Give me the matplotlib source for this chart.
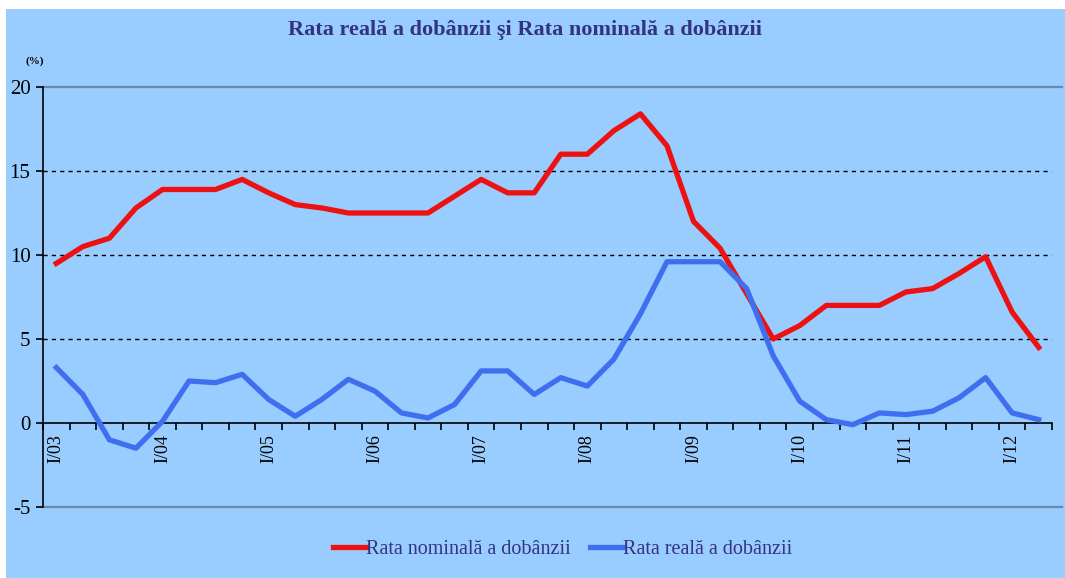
import matplotlib.pyplot as plt
from matplotlib.patches import Rectangle

plt.rcParams["axes.unicode_minus"] = False

# date trimestriale I/03 - II/12
rata_nominala = [9.5, 10.5, 11.0, 12.8, 13.9, 13.9, 13.9, 14.5, 13.7, 13.0,
                 12.8, 12.5, 12.5, 12.5, 12.5, 13.5, 14.5, 13.7, 13.7, 16.0,
                 16.0, 17.4, 18.4, 16.5, 12.0, 10.4, 7.7, 5.0, 5.8, 7.0,
                 7.0, 7.0, 7.8, 8.0, 8.9, 9.9, 6.6, 4.5]
rata_reala = [3.3, 1.7, -1.0, -1.5, 0.1, 2.5, 2.4, 2.9, 1.4, 0.4,
              1.4, 2.6, 1.9, 0.6, 0.3, 1.1, 3.1, 3.1, 1.7, 2.7,
              2.2, 3.8, 6.5, 9.6, 9.6, 9.6, 8.0, 4.0, 1.3, 0.2,
              -0.1, 0.6, 0.5, 0.7, 1.5, 2.7, 0.6, 0.2]
ani = ["03", "04", "05", "06", "07", "08", "09", "10", "11", "12"]
etichete = ["I/" + a for a in ani]

bg = "#99CCFF"
navy = "#333380"
serif = ["Liberation Serif", "DejaVu Serif"]

fig = plt.figure(figsize=(10.65, 5.78), dpi=100)
fig.patch.set_facecolor("white")
fig.patches.append(Rectangle((6 / 1065, 0), 1, 1 - 9 / 578, transform=fig.transFigure,
                             facecolor=bg, edgecolor="none", zorder=-10))

ax = fig.add_axes([43 / 1065, 1 - 507 / 578, (1052 - 43) / 1065, (507 - 87) / 578])
ax.set_facecolor(bg)

x = list(range(len(rata_nominala)))
ax.plot(x, rata_nominala, color="#EE1111", lw=3.8, solid_joinstyle="round",
        label="Rata nominală a dobânzii", zorder=3)
ax.plot(x, rata_reala, color="#3F6FEF", lw=3.8, solid_joinstyle="round",
        label="Rata reală a dobânzii", zorder=4)

ax.set_xlim(-0.5, len(x) - 0.5)
ax.set_ylim(-5, 20)

for s in ["top", "right"]:
    ax.spines[s].set_visible(False)
ax.spines["bottom"].set_position(("data", 0))
ax.spines["bottom"].set_linewidth(1.2)
ax.spines["left"].set_linewidth(1.2)

for v in [5, 10, 15]:
    ax.axhline(v, color="black", lw=1.0, ls=(0, (3, 3)), zorder=1)
ax.axhline(20, color="#6A8AAA", lw=1.6, xmax=1.01, clip_on=False, zorder=1)
ax.axhline(-5, color="#6A8AAA", lw=1.6, xmax=1.01, clip_on=False, zorder=1)

ax.set_yticks([-5, 0, 5, 10, 15, 20])
ax.tick_params(axis="y", direction="out", length=5, width=1.2, labelsize=15, pad=4)
for lab in ax.get_yticklabels():
    lab.set_family(serif)

ax.set_xticks(range(0, len(x), 4))
ax.set_xticklabels(etichete, rotation=90, fontsize=13, family=serif)
ax.set_xticks([i - 0.5 for i in range(len(x) + 1)], minor=True)
ax.tick_params(axis="x", which="major", length=0, pad=8)
ax.tick_params(axis="x", which="minor", direction="out", length=5, width=1.2)

fig.text(25 / 1065, 1 - 61 / 578, "(%)", fontsize=8, fontweight="bold",
         family=serif, va="center")
fig.text(525 / 1065, 1 - 30 / 578, "Rata reală a dobânzii şi Rata nominală a dobânzii",
         fontsize=16, fontweight="bold", color=navy, family=serif,
         ha="center", va="center")

leg = ax.legend(loc="center", bbox_to_anchor=(0.515, -0.1), ncol=2, frameon=False,
                handlelength=1.6, handletextpad=0.0, columnspacing=1.0,
                prop={"family": serif, "size": 14.5})
for t in leg.get_texts():
    t.set_color(navy)

fig.savefig("out.png", dpi=100, facecolor=fig.get_facecolor())
